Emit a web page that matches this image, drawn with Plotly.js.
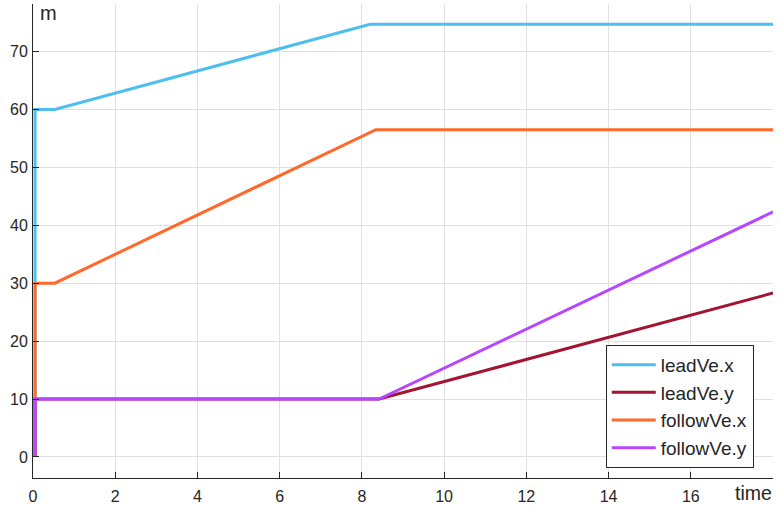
<!DOCTYPE html>
<html>
<head>
<meta charset="utf-8">
<script src="https://cdn.plot.ly/plotly-3.0.1.min.js"></script>
<style>html,body{margin:0;padding:0;background:#fff;}#chart{width:782px;height:506px;}</style>
</head>
<body>
<div id="chart"></div>
<script>
// Data
var leadX_t = [0.05, 0.05, 0.53, 8.2, 18];
var leadX_v = [0, 60, 60, 74.7, 74.7];
var leadY_t = [0.05, 0.05, 8.42, 18];
var leadY_v = [0, 10, 10, 28.3];
var followX_t = [0.05, 0.05, 0.53, 8.34, 18];
var followX_v = [0, 30, 30, 56.5, 56.5];
var followY_t = [0.05, 0.05, 8.42, 18];
var followY_v = [0, 10, 10, 42.3];
var seriesNames = ['leadVe.x', 'leadVe.y', 'followVe.x', 'followVe.y'];
var xTickVals = [0, 2, 4, 6, 8, 10, 12, 14, 16, 18];
var xTickText = ['0', '2', '4', '6', '8', '10', '12', '14', '16', ''];
var yTickVals = [0, 10, 20, 30, 40, 50, 60, 70];

var FONT = 'Liberation Sans, Arial, sans-serif';
var colors = ['#4DBEEE', '#A2142F', '#FF6929', '#B746FF'];
var xs = [leadX_t, leadY_t, followX_t, followY_t];
var ys = [leadX_v, leadY_v, followX_v, followY_v];
var traces = seriesNames.map(function (n, i) {
  return {x: xs[i], y: ys[i], name: n, type: 'scatter', mode: 'lines',
    line: {color: colors[i], width: 3}};
});

var axisCommon = {
  showline: true, linecolor: '#262626', linewidth: 1, mirror: false,
  ticks: 'inside', ticklen: 6, tickcolor: '#262626', tickwidth: 1,
  showgrid: true, gridcolor: '#e0e0e0', gridwidth: 1, zeroline: false,
  tickfont: {family: FONT, size: 16, color: '#262626'}
};

var layout = {
  width: 782, height: 506,
  margin: {l: 33, r: 9, t: 4, b: 28},
  paper_bgcolor: '#fff', plot_bgcolor: '#fff',
  xaxis: Object.assign({}, axisCommon, {range: [0, 18], tickvals: xTickVals, ticktext: xTickText, ticklabelstandoff: 4}),
  yaxis: Object.assign({}, axisCommon, {range: [-3.63, 78.2], tickvals: yTickVals, ticklabelstandoff: 1}),
  showlegend: true,
  legend: {
    x: 0.774, y: 0.281, xanchor: 'left', yanchor: 'top',
    bgcolor: '#fff', bordercolor: '#262626', borderwidth: 1,
    font: {family: FONT, size: 19, color: '#262626'},
    tracegroupgap: 0, itemwidth: 44
  },
  annotations: [
    {text: 'm', xref: 'paper', yref: 'paper', x: 0, y: 1, xshift: 5, yshift: 4,
      xanchor: 'left', yanchor: 'top', showarrow: false,
      font: {family: FONT, size: 20, color: '#262626'}},
    {text: 'time', xref: 'paper', yref: 'paper', x: 1, y: 0, xshift: 1, yshift: -28,
      xanchor: 'right', yanchor: 'bottom', showarrow: false,
      font: {family: FONT, size: 19.5, color: '#262626'}}
  ]
};

Plotly.newPlot('chart', traces, layout, {displayModeBar: false, staticPlot: true});
</script>
</body>
</html>
